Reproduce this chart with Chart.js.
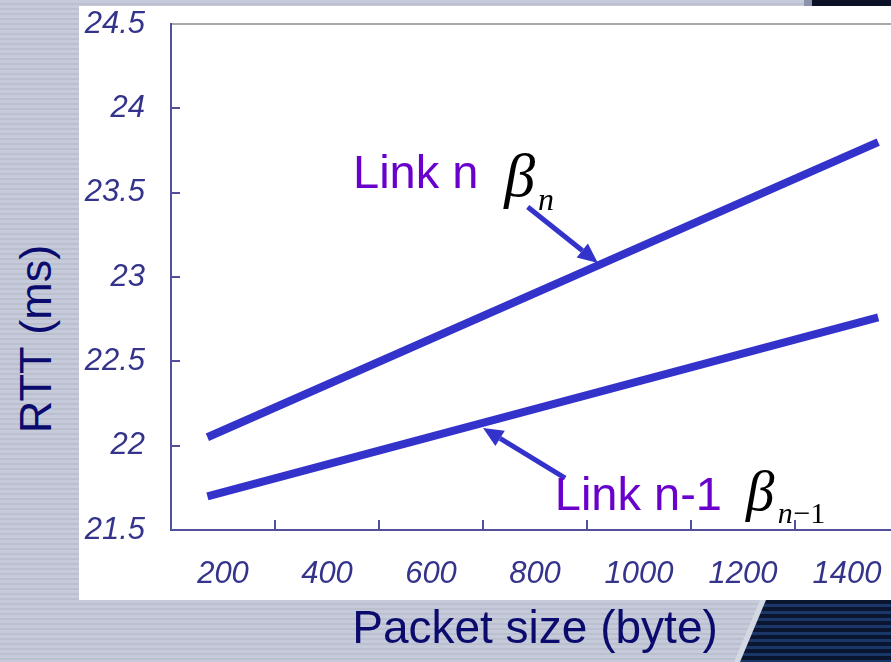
<!DOCTYPE html>
<html>
<head>
<meta charset="utf-8">
<script src="https://cdn.jsdelivr.net/npm/chart.js@4"></script>
<style>
	html, body { margin: 0; padding: 0; }
	body {
		width: 891px; height: 662px; overflow: hidden; position: relative;
		background: repeating-linear-gradient(180deg, #c6cbdb 0px, #c6cbdb 3px, #bcc0ce 3px, #bcc0ce 5px);
	}
	#panel { position: absolute; left: 79px; top: 6px; width: 812px; height: 594px; background: #fff; }
	#darkBottom {
		position: absolute; left: 700px; top: 600px; width: 191px; height: 62px;
		background: repeating-linear-gradient(180deg, #0a1530 0px, #0a1530 4px, #1b3668 4px, #1b3668 7px);
		clip-path: polygon(66px 0, 191px 0, 191px 62px, 40px 62px);
	}
	#edgeBottom {
		position: absolute; left: 700px; top: 600px; width: 191px; height: 62px;
		background: #d4d8e2;
		clip-path: polygon(60px 0, 67px 0, 41px 62px, 34px 62px);
	}
	#darkTop { position: absolute; left: 812px; top: 0; width: 79px; height: 6px; background: #0b1228; }
	#edgeTop { position: absolute; left: 804px; top: 0; width: 8px; height: 6px; background: #8a93aa; }
	#wrap { position: absolute; left: 0; top: 0; width: 920px; height: 662px; }
	#ytitle {
		position: absolute; left: 36px; top: 339px;
		transform: translate(-50%, -50%) rotate(-90deg);
		font: 45px "Liberation Sans", Arial, sans-serif; color: #0b0b6e; white-space: nowrap;
	}
</style>
</head>
<body>
<div id="panel"></div>
<div id="edgeBottom"></div>
<div id="darkBottom"></div>
<div id="edgeTop"></div>
<div id="darkTop"></div>
<div id="ytitle">RTT (ms)</div>
<div id="wrap"><canvas id="myChart" width="920" height="662"></canvas></div>

<script>
// データ
const packetSizes = [170, 1460];
const rttLinkN = [22.05, 23.80];
const rttLinkN1 = [21.70, 22.76];

// 目盛り
const xTickLabels = [200, 400, 600, 800, 1000, 1200, 1400];
const xTickMarks = [300, 500, 700, 900, 1100, 1300, 1500];
const yTickMarks = [22, 22.5, 23, 23.5, 24];

// 矢印(データ座標)
const arrowFrom = [[786, 23.415], [858, 21.808]];
const arrowTo = [[921, 23.083], [700, 22.105]];

const lineColor = '#3333cc';
const axisColor = '#50509c';
const tickColor = '#34348a';

function drawArrow(ctx, x1, y1, x2, y2)
{
	const ang = Math.atan2(y2 - y1, x2 - x1);
	const hl = 20, hw = 9;
	const bx = x2 - hl * Math.cos(ang), by = y2 - hl * Math.sin(ang);
	ctx.lineWidth = 5;
	ctx.beginPath();
	ctx.moveTo(x1, y1);
	ctx.lineTo(bx, by);
	ctx.stroke();
	ctx.beginPath();
	ctx.moveTo(x2, y2);
	ctx.lineTo(bx + hw * Math.sin(ang), by - hw * Math.cos(ang));
	ctx.lineTo(bx - hw * Math.sin(ang), by + hw * Math.cos(ang));
	ctx.closePath();
	ctx.fill();
}

const notes = {
	id: 'notes',
	afterDraw(chart)
	{
		const ctx = chart.ctx;
		const a = chart.chartArea;
		const xs = chart.scales.x, ys = chart.scales.y;
		ctx.save();

		// 上枠
		ctx.strokeStyle = '#a9a9a9';
		ctx.lineWidth = 2;
		ctx.beginPath();
		ctx.moveTo(a.left + 1, a.top);
		ctx.lineTo(a.right, a.top);
		ctx.stroke();

		// 内向きの目盛り
		ctx.strokeStyle = axisColor;
		ctx.lineWidth = 2;
		xTickMarks.forEach(v => {
			const px = Math.round(xs.getPixelForValue(v));
			ctx.beginPath();
			ctx.moveTo(px, a.bottom);
			ctx.lineTo(px, a.bottom - 10);
			ctx.stroke();
		});
		yTickMarks.forEach(v => {
			const py = Math.round(ys.getPixelForValue(v));
			ctx.beginPath();
			ctx.moveTo(a.left, py);
			ctx.lineTo(a.left + 9, py);
			ctx.stroke();
		});

		// 矢印
		ctx.strokeStyle = lineColor;
		ctx.fillStyle = lineColor;
		for (let i = 0; i < arrowFrom.length; i++) {
			drawArrow(ctx,
				xs.getPixelForValue(arrowFrom[i][0]), ys.getPixelForValue(arrowFrom[i][1]),
				xs.getPixelForValue(arrowTo[i][0]), ys.getPixelForValue(arrowTo[i][1]));
		}

		// 注釈
		ctx.textBaseline = 'alphabetic';
		ctx.textAlign = 'left';
		const put = (t, x, y, font, color) => {
			ctx.font = font;
			ctx.fillStyle = color;
			ctx.fillText(t, xs.getPixelForValue(x), ys.getPixelForValue(y));
		};
		const sans = '"Liberation Sans", Arial, sans-serif';
		const serif = '"Liberation Serif", "Times New Roman", serif';
		put('Link n', 450, 23.53, '47px ' + sans, '#6a00cc');
		put('β', 741, 23.48, 'italic 62px ' + serif, '#000');
		put('n', 806, 23.40, 'italic 32px ' + serif, '#000');
		put('Link n-1', 838, 21.62, '47px ' + sans, '#6a00cc');
		put('β', 1206, 21.62, 'italic 57px ' + serif, '#000');
		put('n', 1267, 21.54, 'italic 30px ' + serif, '#000');
		put('−1', 1297, 21.54, '30px ' + serif, '#000');

		ctx.restore();
	}
};

function drawChart()
{
	const ctx = document.getElementById('myChart').getContext('2d');
	const myChart = new Chart(ctx, {
		type: 'line',
		data: {
			datasets: [{
				label: 'Link n',
				data: packetSizes.map((s, i) => ({ x: s, y: rttLinkN[i] })),
				borderColor: lineColor,
				borderWidth: 8,
				borderCapStyle: 'butt',
				pointRadius: 0,
				fill: false,
				tension: 0
			},
			{
				label: 'Link n-1',
				data: packetSizes.map((s, i) => ({ x: s, y: rttLinkN1[i] })),
				borderColor: lineColor,
				borderWidth: 8,
				borderCapStyle: 'butt',
				pointRadius: 0,
				fill: false,
				tension: 0
			}]
		},
		options: {
			responsive: false,
			animation: false,
			layout: { padding: { left: 0, top: 24, right: 21, bottom: 0 } },
			plugins: {
				legend: { display: false },
				tooltip: { enabled: false }
			},
			scales: {
				x: {
					type: 'linear',
					min: 100,
					max: 1500,
					afterBuildTicks: s => { s.ticks = xTickLabels.map(v => ({ value: v })); },
					afterFit: s => { s.height = 132; s.paddingLeft = 0; s.paddingRight = 0; },
					grid: { display: false, drawTicks: false },
					border: { display: true, color: axisColor, width: 2 },
					ticks: {
						padding: 26,
						maxRotation: 0,
						autoSkip: false,
						color: tickColor,
						font: { family: '"Liberation Sans", Arial, sans-serif', size: 31, style: 'italic' },
						callback: v => String(v)
					},
					title: {
						display: true,
						text: 'Packet size (byte)',
						color: '#0b0b6e',
						padding: { top: 0, bottom: 4 },
						font: { family: '"Liberation Sans", Arial, sans-serif', size: 46 }
					}
				},
				y: {
					min: 21.5,
					max: 24.5,
					afterFit: s => { s.width = 171; s.paddingTop = 0; s.paddingBottom = 0; },
					grid: { display: false, drawTicks: false },
					border: { display: true, color: axisColor, width: 2 },
					ticks: {
						stepSize: 0.5,
						padding: 26,
						color: tickColor,
						font: { family: '"Liberation Sans", Arial, sans-serif', size: 31, style: 'italic' },
						callback: v => String(v)
					}
				}
			}
		},
		plugins: [notes]
	});
}

drawChart();
</script>
</body>
</html>
